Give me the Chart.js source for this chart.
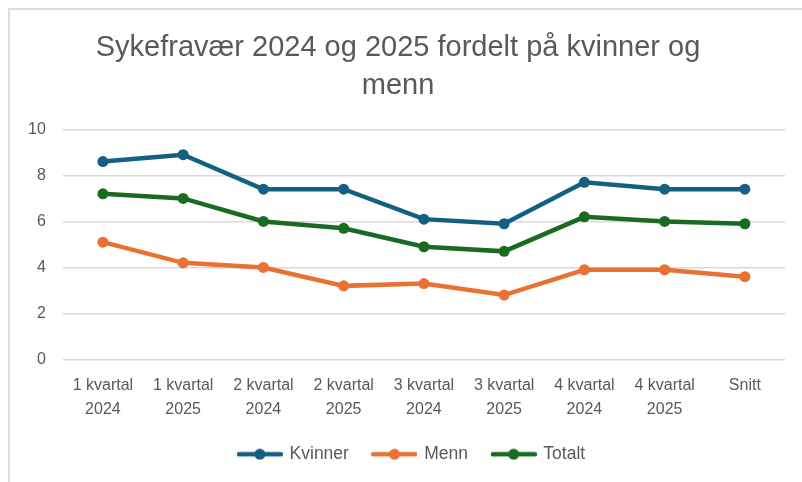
<!DOCTYPE html>
<html>
<head>
<meta charset="utf-8">
<script src="https://cdn.jsdelivr.net/npm/chart.js@4"></script>
<style>
  html, body { margin: 0; padding: 0; background: #fff; overflow: hidden; }
  #wrap { position: relative; width: 802px; height: 482px; }
  #frame { position: absolute; left: 8px; top: 8px; width: 794px; height: 474px;
           border-top: 2px solid #dedede; border-left: 2px solid #dedede; box-sizing: border-box; }
  canvas { position: absolute; left: 0; top: 0; }
</style>
</head>
<body>
<div id="wrap">
  <div id="frame"></div>
  <canvas id="fravaerChart" width="802" height="482"></canvas>
</div>
<script>
// Sykefravær per kvartal
const categories = [
    ['1 kvartal', '2024'], ['1 kvartal', '2025'],
    ['2 kvartal', '2024'], ['2 kvartal', '2025'],
    ['3 kvartal', '2024'], ['3 kvartal', '2025'],
    ['4 kvartal', '2024'], ['4 kvartal', '2025'],
    'Snitt'
];
const kvinner = [8.6, 8.9, 7.4, 7.4, 6.1, 5.9, 7.7, 7.4, 7.4];
const menn = [5.1, 4.2, 4.0, 3.2, 3.3, 2.8, 3.9, 3.9, 3.6];
const totalt = [7.2, 7.0, 6.0, 5.7, 4.9, 4.7, 6.2, 6.0, 5.9];
const yTicks = [0, 2, 4, 6, 8, 10];

const textColor = '#595959';
const fontFamily = "'Liberation Sans', Arial, sans-serif";

// legend marker: line with a dot in the middle
function legendMarker(color) {
    const c = document.createElement('canvas');
    c.width = 46;
    c.height = 12;
    const g = c.getContext('2d');
    g.strokeStyle = color;
    g.lineWidth = 4.5;
    g.lineCap = 'round';
    g.beginPath();
    g.moveTo(2, 6);
    g.lineTo(44, 6);
    g.stroke();
    g.fillStyle = color;
    g.beginPath();
    g.arc(23, 6, 5.5, 0, Math.PI * 2);
    g.fill();
    return c;
}

const colors = ['#156082', '#e97132', '#196b24'];

// nudge the legend a bit to the right, like in the original
const legendShift = {
    id: 'legendShift',
    afterLayout(chart) {
        chart.legend.left += 14;
        chart.legend.right += 14;
    }
};

document.addEventListener('DOMContentLoaded', () => {
    const ctx = document.getElementById('fravaerChart').getContext('2d');
    const makeSet = (label, data, color) => ({
        label: label,
        data: data,
        borderColor: color,
        backgroundColor: color,
        pointBackgroundColor: color,
        pointBorderColor: color,
        borderWidth: 4.5,
        pointRadius: 5.5,
        pointBorderWidth: 0,
        tension: 0
    });

    new Chart(ctx, {
        type: 'line',
        data: {
            labels: categories,
            datasets: [
                makeSet('Kvinner', kvinner, colors[0]),
                makeSet('Menn', menn, colors[1]),
                makeSet('Totalt', totalt, colors[2])
            ]
        },
        plugins: [legendShift],
        options: {
            responsive: false,
            animation: false,
            layout: {
                padding: { top: 10, left: 11, right: 17, bottom: 9 }
            },
            plugins: {
                title: {
                    display: true,
                    text: ['Sykefravær 2024 og 2025 fordelt på kvinner og', 'menn'],
                    color: textColor,
                    font: { family: fontFamily, size: 29, weight: 'normal', lineHeight: 1.3 },
                    padding: { top: 19, bottom: 25 }
                },
                legend: {
                    position: 'bottom',
                    labels: {
                        color: textColor,
                        font: { family: fontFamily, size: 17.5 },
                        usePointStyle: true,
                        pointStyleWidth: 42,
                        padding: 10,
                        generateLabels: (chart) => {
                            const items = Chart.defaults.plugins.legend.labels.generateLabels(chart);
                            items.forEach((it, i) => {
                                it.pointStyle = legendMarker(colors[i]);
                                // extra room between legend entries
                                if (i < items.length - 1) it.text = it.text + '   ';
                            });
                            return items;
                        }
                    }
                },
                tooltip: { enabled: false }
            },
            scales: {
                x: {
                    offset: true,
                    grid: { display: false, drawTicks: false },
                    border: { display: false },
                    ticks: {
                        color: textColor,
                        font: { family: fontFamily, size: 16, lineHeight: 1.5 },
                        padding: 14,
                        maxRotation: 0,
                        autoSkip: false
                    }
                },
                y: {
                    min: 0,
                    max: 10,
                    afterBuildTicks: (axis) => {
                        axis.ticks = yTicks.map(v => ({ value: v }));
                    },
                    grid: { color: '#d9d9d9', lineWidth: 1.5, drawTicks: false },
                    border: { display: false },
                    ticks: {
                        color: textColor,
                        font: { family: fontFamily, size: 16 },
                        padding: 17
                    }
                }
            }
        }
    });
});
</script>
</body>
</html>
